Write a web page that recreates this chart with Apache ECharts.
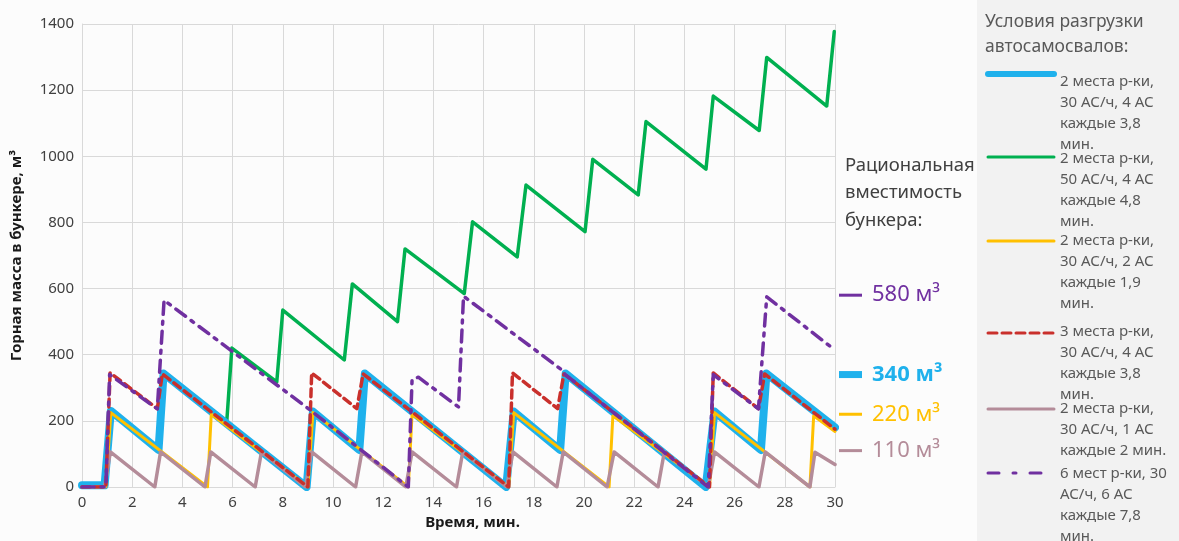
<!DOCTYPE html>
<html>
<head>
<meta charset="utf-8">
<title>Горная масса в бункере</title>
<script src="https://cdn.jsdelivr.net/npm/echarts@6/dist/echarts.min.js"></script>
<style>
	html, body { margin: 0; padding: 0; background: #fff; }
	#chart { width: 1179px; height: 541px; }
</style>
</head>
<body>
<div id="chart"></div>
<script>
// [время, мин ; горная масса, м3]
var blueData = [[0, 5], [0.9, 5], [1.15, 230], [3.05, 112], [3.25, 343], [8.95, 0], [9.2, 228],
	[11.05, 112], [11.27, 343], [16.9, 0], [17.2, 228], [19.05, 112], [19.27, 343], [24.85, 0],
	[25.2, 228], [27.05, 112], [27.27, 343], [30, 180]];
var greenData = [[0, 5], [0.9, 5], [1.15, 230], [3.0, 118], [3.2, 340], [5.77, 200], [5.97, 420],
	[7.76, 318], [8.0, 535], [10.45, 384], [10.77, 614], [12.57, 500], [12.87, 720], [15.23, 585],
	[15.56, 802], [17.34, 696], [17.69, 913], [20.04, 772], [20.35, 991], [22.16, 883], [22.47, 1105],
	[24.86, 961], [25.15, 1182], [26.98, 1078], [27.28, 1299], [29.67, 1152], [29.97, 1377]];
var yellowData = [[0, 0], [0.95, 0], [1.15, 225], [5.0, 0], [5.15, 220], [9.0, 0], [9.2, 225],
	[13.0, 0], [13.15, 220], [17.0, 0], [17.2, 225], [21.0, 0], [21.15, 215], [25.0, 0],
	[25.2, 225], [29.0, 0], [29.15, 215], [30, 168]];
var redData = [[0, 0], [0.95, 0], [1.12, 345], [3.0, 237], [3.2, 342], [9.0, 0], [9.15, 345],
	[10.95, 237], [11.2, 342], [17.0, 0], [17.15, 345], [18.95, 237], [19.2, 342], [25.0, 0],
	[25.15, 345], [26.95, 237], [27.2, 342], [30, 175]];
var brownData = [[0, 0], [0.9, 0], [1.13, 106], [2.9, 0], [3.13, 106], [4.9, 0], [5.13, 106],
	[6.9, 0], [7.15, 106], [8.9, 0], [9.15, 106], [10.9, 0], [11.15, 106], [12.9, 0], [13.15, 106],
	[14.92, 0], [15.17, 106], [16.92, 0], [17.17, 106], [18.92, 0], [19.17, 106], [20.92, 0],
	[21.2, 106], [22.95, 0], [23.2, 106], [24.95, 0], [25.2, 106], [26.97, 0], [27.22, 106],
	[29.0, 0], [29.2, 105], [30, 68]];
var purpleData = [[0, 0], [0.95, 0], [1.1, 340], [3.0, 236], [3.27, 565], [9.0, 238], [13.0, 0],
	[13.15, 325], [13.4, 332], [15.0, 242], [15.2, 577], [19.15, 352], [19.25, 340], [24.95, 0],
	[25.15, 340], [26.95, 236], [27.28, 575], [30, 414]];

var seriesNames = [
	"2 места р-ки,\n30 АС/ч, 4 АС\nкаждые 3,8\nмин.",
	"2 места р-ки,\n50 АС/ч, 4 АС\nкаждые 4,8\nмин.",
	"2 места р-ки,\n30 АС/ч, 2 АС\nкаждые 1,9\nмин.",
	"3 места р-ки,\n30 АС/ч, 4 АС\nкаждые 3,8\nмин.",
	"2 места р-ки,\n30 АС/ч, 1 АС\nкаждые 2 мин.",
	"6 мест р-ки, 30\nАС/ч, 6 АС\nкаждые 7,8\nмин."
];
var capacityValues = [580, 340, 220, 110];
var capacityLabels = ["580 м³", "340 м³", "220 м³", "110 м³"];

var BLUE = '#1fb1ec', GREEN = '#00b050', YELLOW = '#ffc000', RED = '#c9302c', BROWN = '#b48c99', PURPLE = '#7030a0';
var DASH_RED = [8, 5];
var DASH_PURPLE = [12, 7, 3, 7];

function lineSeries(name, data, color, width, dash, z) {
	return {
		name : name,
		type : 'line',
		data : data,
		symbol : 'none',
		z : z,
		lineStyle : {
			color : color,
			width : width,
			type : dash || 'solid',
			cap : 'round',
			join : 'round'
		}
	};
}

// легенда справа на сером поле
function legendGraphic() {
	var items = [];
	var lineY = [74, 157, 241, 333, 409, 473];
	var textY = [82, 159, 241, 332, 409, 474];
	var styles = [
		[BLUE, 6, null], [GREEN, 3, null], [YELLOW, 3, null],
		[RED, 3, [9, 5]], [BROWN, 3, null], [PURPLE, 3, [11, 14, 3, 14]]
	];
	items.push({
		type : 'rect', shape : { x : 977, y : 0, width : 202, height : 541 },
		style : { fill : '#f2f2f2' }, silent : true
	});
	items.push({
		type : 'text',
		style : {
			text : "Условия разгрузки\nавтосамосвалов:", x : 985, y : 22 - 12.5,
			fill : '#595959', fontSize : 17.5, fontFamily : 'Noto Sans', lineHeight : 25,
			align : 'left', verticalAlign : 'top'
		}
	});
	for (var i = 0; i < seriesNames.length; i++) {
		items.push({
			type : 'line',
			shape : { x1 : 988, y1 : lineY[i], x2 : 1054, y2 : lineY[i] },
			style : { stroke : styles[i][0], lineWidth : styles[i][1], lineDash : styles[i][2], lineCap : 'round' }
		});
		items.push({
			type : 'text',
			style : {
				text : seriesNames[i], x : 1060, y : textY[i] - 10.5,
				fill : '#595959', fontSize : 15, fontFamily : 'Noto Sans', lineHeight : 21,
				align : 'left', verticalAlign : 'top'
			}
		});
	}
	return items;
}

// подписи рациональной вместимости
function capacityGraphic(chart) {
	var items = [];
	var colors = [PURPLE, BLUE, YELLOW, BROWN];
	var widths = [3, 7, 3, 3];
	items.push({
		type : 'text',
		style : {
			text : "Рациональная\nвместимость\nбункера:", x : 845, y : 165 - 13.5,
			fill : '#404040', fontSize : 18.5, fontFamily : 'Noto Sans', lineHeight : 27.5,
			align : 'left', verticalAlign : 'top'
		}
	});
	for (var i = 0; i < capacityValues.length; i++) {
		var y = chart.convertToPixel({ gridIndex : 0 }, [30, capacityValues[i]])[1];
		items.push({
			type : 'line',
			shape : { x1 : 839, y1 : y, x2 : 862, y2 : y },
			style : { stroke : colors[i], lineWidth : widths[i] }
		});
		items.push({
			type : 'text',
			style : {
				text : capacityLabels[i], x : 872, y : y,
				fill : colors[i], fontSize : 22, fontFamily : 'Noto Sans',
				fontWeight : i == 1 ? 'bold' : 'normal',
				align : 'left', verticalAlign : 'middle'
			}
		});
	}
	return items;
}

var axisText = { color : '#404040', fontSize : 15, fontFamily : 'Noto Sans', formatter : function(v) { return String(v); } };
var gridLine = { lineStyle : { color : '#d9d9d9', width : 1 } };

var option = {
	animation : false,
	backgroundColor : '#fcfcfc',
	grid : { left : 82, right : 344, top : 24, bottom : 54 },
	xAxis : {
		type : 'value', min : 0, max : 30, interval : 2,
		name : 'Время, мин.', nameLocation : 'middle', nameGap : 28,
		nameTextStyle : { color : '#1a1a1a', fontSize : 15, fontWeight : 'bold', fontFamily : 'Noto Sans', padding : [0, 0, 0, 28] },
		axisLine : gridLine, axisTick : { show : false },
		axisLabel : axisText, splitLine : gridLine
	},
	yAxis : {
		type : 'value', min : 0, max : 1400, interval : 200,
		name : 'Горная масса в бункере, м³', nameLocation : 'middle', nameGap : 58, nameRotate : 90,
		nameTextStyle : { color : '#1a1a1a', fontSize : 15, fontWeight : 'bold', fontFamily : 'Noto Sans' },
		axisLine : { show : true, lineStyle : { color : '#d9d9d9' } }, axisTick : { show : false },
		axisLabel : axisText, splitLine : gridLine
	},
	series : [
		lineSeries('green', greenData, GREEN, 3.5, null, 1),
		lineSeries('blue', blueData, BLUE, 8, null, 2),
		lineSeries('yellow', yellowData, YELLOW, 3, null, 3),
		lineSeries('brown', brownData, BROWN, 3.5, null, 4),
		lineSeries('red', redData, RED, 3.5, DASH_RED, 5),
		lineSeries('purple', purpleData, PURPLE, 3.5, DASH_PURPLE, 6)
	]
};

var myChart = echarts.init(document.getElementById('chart'));
myChart.setOption(option);
myChart.setOption({ graphic : legendGraphic().concat(capacityGraphic(myChart)) });
</script>
</body>
</html>
